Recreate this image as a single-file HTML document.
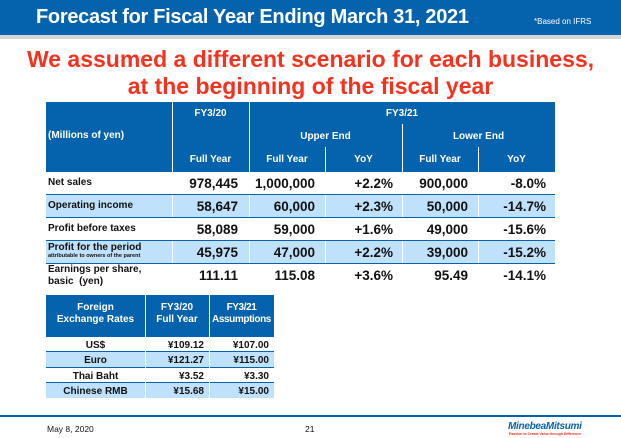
<!DOCTYPE html>
<html><head><style>
*{margin:0;padding:0;box-sizing:border-box}
body{width:621px;height:438px;background:#fff;position:relative;overflow:hidden;font-family:"Liberation Sans",Arial,sans-serif;font-weight:bold;color:#111}
.a{position:absolute}
.hb{background:#0563ad;color:#fff}
.lb{background:#bfe1fb}
.c{text-align:center}
.r{text-align:right}
.v{position:absolute;width:1px;background:#fff}
.h{position:absolute;height:1px;background:#0563ad}
</style></head><body>
<div class="a hb" style="left:0;top:0;width:621px;height:35px"></div>
<div class="a" style="left:0;top:35px;width:621px;height:4px;background:#d4d4d4"></div>
<div class="a" style="left:36px;top:6px;font-size:20px;color:#fff;letter-spacing:-0.3px">Forecast for Fiscal Year Ending March 31, 2021</div>
<div class="a" style="left:534px;top:17px;font-size:8px;font-weight:normal;color:#fff">*Based on IFRS</div>
<div class="a c" style="left:0;top:46px;width:621px;font-size:23px;line-height:27px;color:#f5321e">We assumed a different scenario for each business,<br>at the beginning of the fiscal year</div>

<div class="a hb" style="left:46px;top:102px;width:509px;height:70px"></div>
<div class="v" style="left:172px;top:102px;height:70px"></div>
<div class="v" style="left:249px;top:102px;height:70px"></div>
<div class="v" style="left:402px;top:124px;height:48px"></div>
<div class="v" style="left:325px;top:147px;height:25px"></div>
<div class="v" style="left:478px;top:147px;height:25px"></div>
<div class="a" style="left:48px;top:130px;font-size:10px;color:#fff">(Millions of yen)</div>
<div class="a c" style="left:172px;top:108px;width:77px;font-size:10px;color:#fff">FY3/20</div>
<div class="a c" style="left:249px;top:108px;width:306px;font-size:10px;color:#fff">FY3/21</div>
<div class="a c" style="left:249px;top:131px;width:153px;font-size:10px;color:#fff">Upper End</div>
<div class="a c" style="left:402px;top:131px;width:153px;font-size:10px;color:#fff">Lower End</div>
<div class="a c" style="left:172px;top:154px;width:77px;font-size:10px;color:#fff">Full Year</div>
<div class="a c" style="left:249px;top:154px;width:76px;font-size:10px;color:#fff">Full Year</div>
<div class="a c" style="left:325px;top:154px;width:77px;font-size:10px;color:#fff">YoY</div>
<div class="a c" style="left:402px;top:154px;width:76px;font-size:10px;color:#fff">Full Year</div>
<div class="a c" style="left:478px;top:154px;width:77px;font-size:10px;color:#fff">YoY</div>

<div class="a lb" style="left:46px;top:195px;width:509px;height:22px"></div>
<div class="a lb" style="left:46px;top:241px;width:509px;height:22px"></div>
<div class="h" style="left:46px;top:194px;width:509px"></div>
<div class="h" style="left:46px;top:217px;width:509px"></div>
<div class="h" style="left:46px;top:240px;width:509px"></div>
<div class="h" style="left:46px;top:263px;width:509px"></div>
<div class="v" style="left:172px;top:195px;height:22px"></div>
<div class="v" style="left:249px;top:195px;height:22px"></div>
<div class="v" style="left:325px;top:195px;height:22px"></div>
<div class="v" style="left:402px;top:195px;height:22px"></div>
<div class="v" style="left:478px;top:195px;height:22px"></div>
<div class="v" style="left:172px;top:241px;height:22px"></div>
<div class="v" style="left:249px;top:241px;height:22px"></div>
<div class="v" style="left:325px;top:241px;height:22px"></div>
<div class="v" style="left:402px;top:241px;height:22px"></div>
<div class="v" style="left:478px;top:241px;height:22px"></div>

<div class="a" style="left:48px;top:177px;font-size:10px">Net sales</div>
<div class="a" style="left:48px;top:200px;font-size:10px">Operating income</div>
<div class="a" style="left:48px;top:223px;font-size:10px">Profit before taxes</div>
<div class="a" style="left:48px;top:242px;font-size:10px;line-height:11px">Profit for the period<br><span style="font-size:5.5px;line-height:7px;display:block">attributable to owners of the parent</span></div>
<div class="a" style="left:48px;top:264px;font-size:10px;line-height:12px">Earnings per share,<br>basic&nbsp; (yen)</div>

<div class="a r" style="top:172px;font-size:13.5px;line-height:23px;left:140px;width:98px">978,445<br>58,647<br>58,089<br>45,975<br>111.11</div>
<div class="a r" style="top:172px;font-size:13.5px;line-height:23px;left:215px;width:100px">1,000,000<br>60,000<br>59,000<br>47,000<br>115.08</div>
<div class="a r" style="top:172px;font-size:13.5px;line-height:23px;left:320px;width:73px">+2.2%<br>+2.3%<br>+1.6%<br>+2.2%<br>+3.6%</div>
<div class="a r" style="top:172px;font-size:13.5px;line-height:23px;left:400px;width:68px">900,000<br>50,000<br>49,000<br>39,000<br>95.49</div>
<div class="a r" style="top:172px;font-size:13.5px;line-height:23px;left:480px;width:66px">-8.0%<br>-14.7%<br>-15.6%<br>-15.2%<br>-14.1%</div>

<div class="a hb" style="left:46px;top:295px;width:228px;height:42px"></div>
<div class="v" style="left:145px;top:295px;height:103px"></div>
<div class="v" style="left:209px;top:295px;height:103px"></div>
<div class="a c" style="left:46px;top:302px;width:99px;font-size:10px;line-height:12px;color:#fff">Foreign<br>Exchange Rates</div>
<div class="a c" style="left:145px;top:302px;width:64px;font-size:10px;line-height:12px;color:#fff">FY3/20<br>Full Year</div>
<div class="a c" style="left:209px;top:302px;width:65px;font-size:10px;line-height:12px;color:#fff;letter-spacing:-0.4px">FY3/21<br>Assumptions</div>
<div class="a lb" style="left:46px;top:352px;width:228px;height:15px"></div>
<div class="a lb" style="left:46px;top:383px;width:228px;height:15px"></div>
<div class="h" style="left:46px;top:351px;width:228px"></div>
<div class="h" style="left:46px;top:367px;width:228px"></div>
<div class="h" style="left:46px;top:382px;width:228px"></div>
<div class="v" style="left:145px;top:337px;height:61px"></div>
<div class="v" style="left:209px;top:337px;height:61px"></div>
<div class="a c" style="left:46px;top:338px;width:99px;font-size:10px;line-height:15.3px">US$<br>Euro<br>Thai Baht<br>Chinese RMB</div>
<div class="a r" style="left:145px;top:338px;width:59px;font-size:10px;line-height:15.3px">¥109.12<br>¥121.27<br>¥3.52<br>¥15.68</div>
<div class="a r" style="left:209px;top:338px;width:60px;font-size:10px;line-height:15.3px">¥107.00<br>¥115.00<br>¥3.30<br>¥15.00</div>

<div class="a" style="left:0;top:415px;width:621px;height:2px;background:#0563ad"></div>
<div class="a" style="left:47px;top:424px;font-size:8.5px;font-weight:normal">May 8, 2020</div>
<div class="a" style="left:305px;top:424px;font-size:8.5px;font-weight:normal">21</div>
<div class="a" style="left:508px;top:421px;font-size:10px;font-style:italic;color:#0563ad;letter-spacing:-0.3px">MinebeaMitsumi</div>
<div class="a" style="left:509px;top:432px;font-size:3.5px;color:#e03020">Passion to Create Value through Difference</div>
</body></html>
